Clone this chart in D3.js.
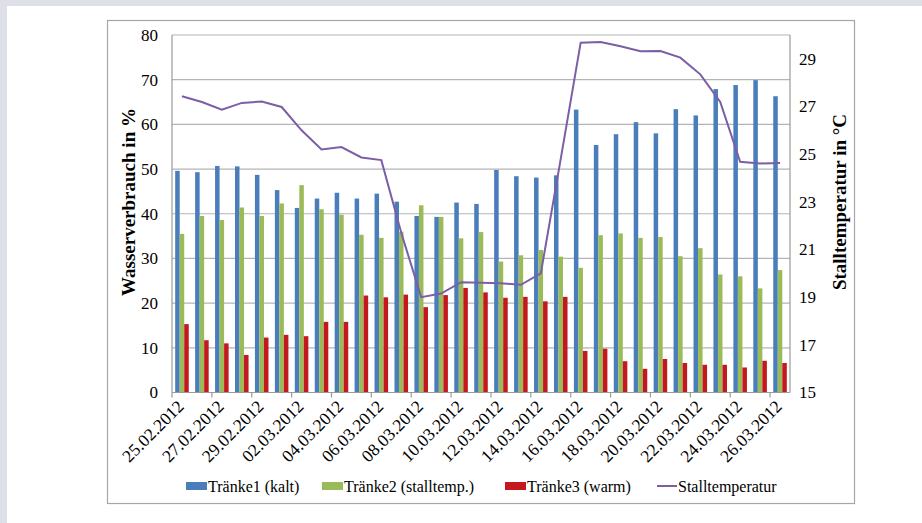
<!DOCTYPE html>
<html>
<head>
<meta charset="utf-8">
<script src="https://cdn.jsdelivr.net/npm/d3@7"></script>
<style>
	body { margin: 0; background: #dde0e7; }
	svg { display: block; }
	text { font-family: 'Liberation Serif', 'DejaVu Serif', serif; fill: #000; }
</style>
</head>
<body>
<svg id="chart" width="922" height="523"></svg>
<script>

var dates = ['25.02.2012','26.02.2012','27.02.2012','28.02.2012','29.02.2012',
	'01.03.2012','02.03.2012','03.03.2012','04.03.2012','05.03.2012','06.03.2012',
	'07.03.2012','08.03.2012','09.03.2012','10.03.2012','11.03.2012','12.03.2012',
	'13.03.2012','14.03.2012','15.03.2012','16.03.2012','17.03.2012','18.03.2012',
	'19.03.2012','20.03.2012','21.03.2012','22.03.2012','23.03.2012','24.03.2012',
	'25.03.2012','26.03.2012']

var traenke1 = [49.6, 49.3, 50.7, 50.6, 48.7, 45.3, 41.3, 43.4, 44.7, 43.4, 44.5,
	42.7, 39.5, 39.3, 42.5, 42.2, 49.8, 48.4, 48.1, 48.6, 63.3, 55.4, 57.8, 60.5,
	58.0, 63.4, 62.0, 67.9, 68.8, 69.9, 66.3]

var traenke2 = [35.5, 39.5, 38.6, 41.4, 39.5, 42.3, 46.4, 41.0, 39.8, 35.3, 34.6,
	36.0, 41.9, 39.3, 34.5, 35.9, 29.3, 30.7, 31.9, 30.4, 27.9, 35.2, 35.6, 34.6,
	34.8, 30.5, 32.3, 26.4, 26.0, 23.3, 27.4]

var traenke3 = [15.3, 11.7, 11.0, 8.4, 12.3, 12.9, 12.6, 15.8, 15.8, 21.7, 21.3,
	21.9, 19.1, 21.8, 23.4, 22.4, 21.2, 21.4, 20.4, 21.4, 9.3, 9.8, 7.0, 5.3, 7.5,
	6.6, 6.2, 6.2, 5.6, 7.1, 6.6]

var stalltemp = [27.43, 27.19, 26.87, 27.15, 27.21, 26.98, 26.0, 25.2, 25.3, 24.86,
	24.75, 21.7, 19.0, 19.15, 19.63, 19.6, 19.58, 19.52, 20.0, 24.8, 29.68, 29.71,
	29.53, 29.32, 29.33, 29.05, 28.35, 27.19, 24.68, 24.61, 24.63]

var leftTicks = [0, 10, 20, 30, 40, 50, 60, 70, 80]
var rightTicks = [15, 17, 19, 21, 23, 25, 27, 29]

var series = ['Tränke1 (kalt)', 'Tränke2 (stalltemp.)', 'Tränke3 (warm)']
var colors = ['#4a7ebb', '#9bbb59', '#c4181f']
var lineName = 'Stalltemperatur'
var lineColor = '#7b5ea7'

var svg = d3.select('#chart')

// white panel with gray strip on top/left
svg.append('rect')
	.attr('x', 7).attr('y', 6)
	.attr('width', 915).attr('height', 517)
	.attr('fill', '#fff')

// chart border
svg.append('rect')
	.attr('x', 107.5).attr('y', 20.5)
	.attr('width', 747).attr('height', 483)
	.attr('fill', 'none')
	.attr('stroke', '#a6a6a6')
	.attr('stroke-width', 1.2)

var plotL = 172, plotR = 790, plotT = 35, plotB = 392.5

var x0 = d3.scaleBand()
	.domain(dates)
	.range([plotL, plotR])

var x1 = d3.scaleBand()
	.domain(series)
	.range([x0.bandwidth() * 0.16, x0.bandwidth() * 0.84])

var y = d3.scaleLinear().domain([0, 80]).range([plotB, plotT])
var y2 = d3.scaleLinear().domain([15, 30]).range([plotB, plotT])

// gridlines
svg.append('g')
	.selectAll('line')
	.data(leftTicks.slice(1))
	.enter().append('line')
	.attr('x1', plotL).attr('x2', plotR)
	.attr('y1', d => y(d)).attr('y2', d => y(d))
	.attr('stroke', '#b4b4b4')
	.attr('stroke-width', 1.2)

// bars
var table = dates.map((d, i) => ({date: d, values: [traenke1[i], traenke2[i], traenke3[i]]}))

var groups = svg.selectAll('.grp')
	.data(table)
	.enter().append('g')
	.attr('class', 'grp')
	.attr('transform', d => 'translate(' + x0(d.date) + ',0)')

groups.selectAll('rect')
	.data(d => d.values.map((v, k) => ({key: series[k], value: v, k: k})))
	.enter().append('rect')
	.attr('x', d => x1(d.key))
	.attr('width', x1.bandwidth())
	.attr('y', d => y(d.value))
	.attr('height', d => plotB - y(d.value))
	.attr('fill', d => colors[d.k])

// axes lines
svg.append('line')
	.attr('x1', plotL).attr('x2', plotL).attr('y1', plotT).attr('y2', plotB)
	.attr('stroke', '#9a9a9a').attr('stroke-width', 1.2)
svg.append('line')
	.attr('x1', plotR).attr('x2', plotR).attr('y1', plotT).attr('y2', plotB)
	.attr('stroke', '#9a9a9a').attr('stroke-width', 1.2)
svg.append('line')
	.attr('x1', plotL).attr('x2', plotR).attr('y1', plotB).attr('y2', plotB)
	.attr('stroke', '#9a9a9a').attr('stroke-width', 1.2)

// x ticks every 2 categories at band start
var labelDates = dates.filter((d, i) => i % 2 == 0)
svg.append('g')
	.selectAll('line')
	.data(labelDates)
	.enter().append('line')
	.attr('x1', d => x0(d)).attr('x2', d => x0(d))
	.attr('y1', plotB).attr('y2', plotB + 5)
	.attr('stroke', '#9a9a9a').attr('stroke-width', 1.2)

svg.append('g')
	.selectAll('text')
	.data(labelDates)
	.enter().append('text')
	.attr('transform', d => 'translate(' + (x0(d) + x0.bandwidth() / 2 + 3) + ',' + (plotB + 15) + ') rotate(-45)')
	.style('text-anchor', 'end')
	.style('font-size', '17.5px')
	.text(d => d)

// left axis labels
svg.append('g')
	.selectAll('text')
	.data(leftTicks)
	.enter().append('text')
	.attr('x', 158)
	.attr('y', d => y(d))
	.attr('dy', '0.35em')
	.style('text-anchor', 'end')
	.style('font-size', '17px')
	.text(d => d)

// right axis labels
svg.append('g')
	.selectAll('text')
	.data(rightTicks)
	.enter().append('text')
	.attr('x', 799)
	.attr('y', d => y2(d))
	.attr('dy', '0.35em')
	.style('text-anchor', 'start')
	.style('font-size', '17px')
	.text(d => d)

// axis titles
svg.append('text')
	.attr('transform', 'translate(135,202) rotate(-90)')
	.style('text-anchor', 'middle')
	.style('font-size', '19px')
	.style('font-weight', 'bold')
	.text('Wasserverbrauch in %')

svg.append('text')
	.attr('transform', 'translate(846,202) rotate(-90)')
	.style('text-anchor', 'middle')
	.style('font-size', '19px')
	.style('font-weight', 'bold')
	.text('Stalltemperatur in °C')

// temperature line
var line = d3.line()
	.x((d, i) => x0(dates[i]) + x0.bandwidth() / 2)
	.y(d => y2(d))

svg.append('path')
	.datum(stalltemp)
	.attr('d', line)
	.attr('fill', 'none')
	.attr('stroke', lineColor)
	.attr('stroke-width', 2)

// legend
var legendX = [186, 322, 505]
var legend = svg.selectAll('.legend')
	.data(series)
	.enter().append('g')
	.attr('class', 'legend')
	.attr('transform', (d, i) => 'translate(' + legendX[i] + ',482)')

legend.append('rect')
	.attr('width', 21)
	.attr('height', 8)
	.attr('fill', (d, i) => colors[i])

legend.append('text')
	.attr('x', 22)
	.attr('y', 4)
	.attr('dy', '0.35em')
	.style('font-size', '16px')
	.text(d => d)

var lg = svg.append('g').attr('transform', 'translate(657,486)')
lg.append('line')
	.attr('x1', 0).attr('x2', 20)
	.attr('stroke', lineColor)
	.attr('stroke-width', 2)
lg.append('text')
	.attr('x', 21)
	.attr('dy', '0.35em')
	.style('font-size', '16px')
	.text(lineName)

</script>
</body>
</html>
